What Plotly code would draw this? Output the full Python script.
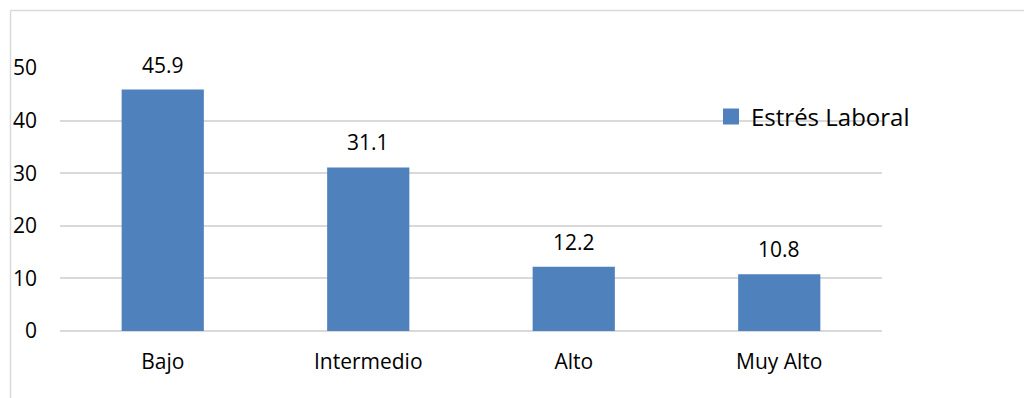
import plotly.graph_objects as go

categories = ["Bajo", "Intermedio", "Alto", "Muy Alto"]
values = [45.9, 31.1, 12.2, 10.8]
series_name = "Estrés Laboral"
y_ticks = [0, 10, 20, 30, 40, 50]
bar_color = "#4f81bd"

L, R, T, B = 60, 142, 68, 67
W, H = 1024, 398
pw, ph = W - L - R, H - T - B

def px(x):
    return (x - L) / pw

def py(y):
    return (H - B - y) / ph

fig = go.Figure()
fig.add_trace(go.Bar(
    x=categories, y=values, name=series_name,
    marker=dict(color=bar_color, line=dict(width=0)),
    showlegend=False, legendgroup="s",
))
# legend entry with a larger square key
fig.add_trace(go.Scatter(
    x=[None], y=[None], mode="markers", name=series_name, legendgroup="s",
    marker=dict(symbol="square", size=16, color=bar_color, line=dict(width=0)),
    showlegend=True,
))
for c, v in zip(categories, values):
    fig.add_annotation(x=c, y=v, text=f"{v:.1f}", showarrow=False,
                       yanchor="bottom", yshift=9,
                       font=dict(size=21, color="#000000"))

# chart border
fig.add_shape(type="line", xref="paper", yref="paper",
              x0=px(10.5), x1=px(1030), y0=py(10.5), y1=py(10.5),
              line=dict(color="#d9d9d9", width=1.5))
fig.add_shape(type="line", xref="paper", yref="paper",
              x0=px(10.5), x1=px(10.5), y0=py(10.5), y1=py(400),
              line=dict(color="#d9d9d9", width=1.5))

fig.update_layout(
    width=W, height=H,
    margin=dict(l=L, r=R, t=T, b=B, pad=0),
    paper_bgcolor="white", plot_bgcolor="white",
    font=dict(family="Open Sans, Liberation Sans, sans-serif", size=21, color="#000000"),
    bargap=0.6,
    legend=dict(x=px(711), y=py(117), xanchor="left", yanchor="middle",
                font=dict(size=24), itemwidth=30, bgcolor="rgba(0,0,0,0)"),
    xaxis=dict(showgrid=False, showline=False, ticks="", ticklabelstandoff=16,
               tickfont=dict(size=21)),
    yaxis=dict(range=[0, 50], tickvals=y_ticks, showgrid=True, gridcolor="#d9d9d9",
               gridwidth=1.5, zeroline=True, zerolinecolor="#d9d9d9", zerolinewidth=1.5,
               showline=False, ticks="", ticklabelstandoff=22, tickfont=dict(size=21)),
)
fig.write_html("out.html")
